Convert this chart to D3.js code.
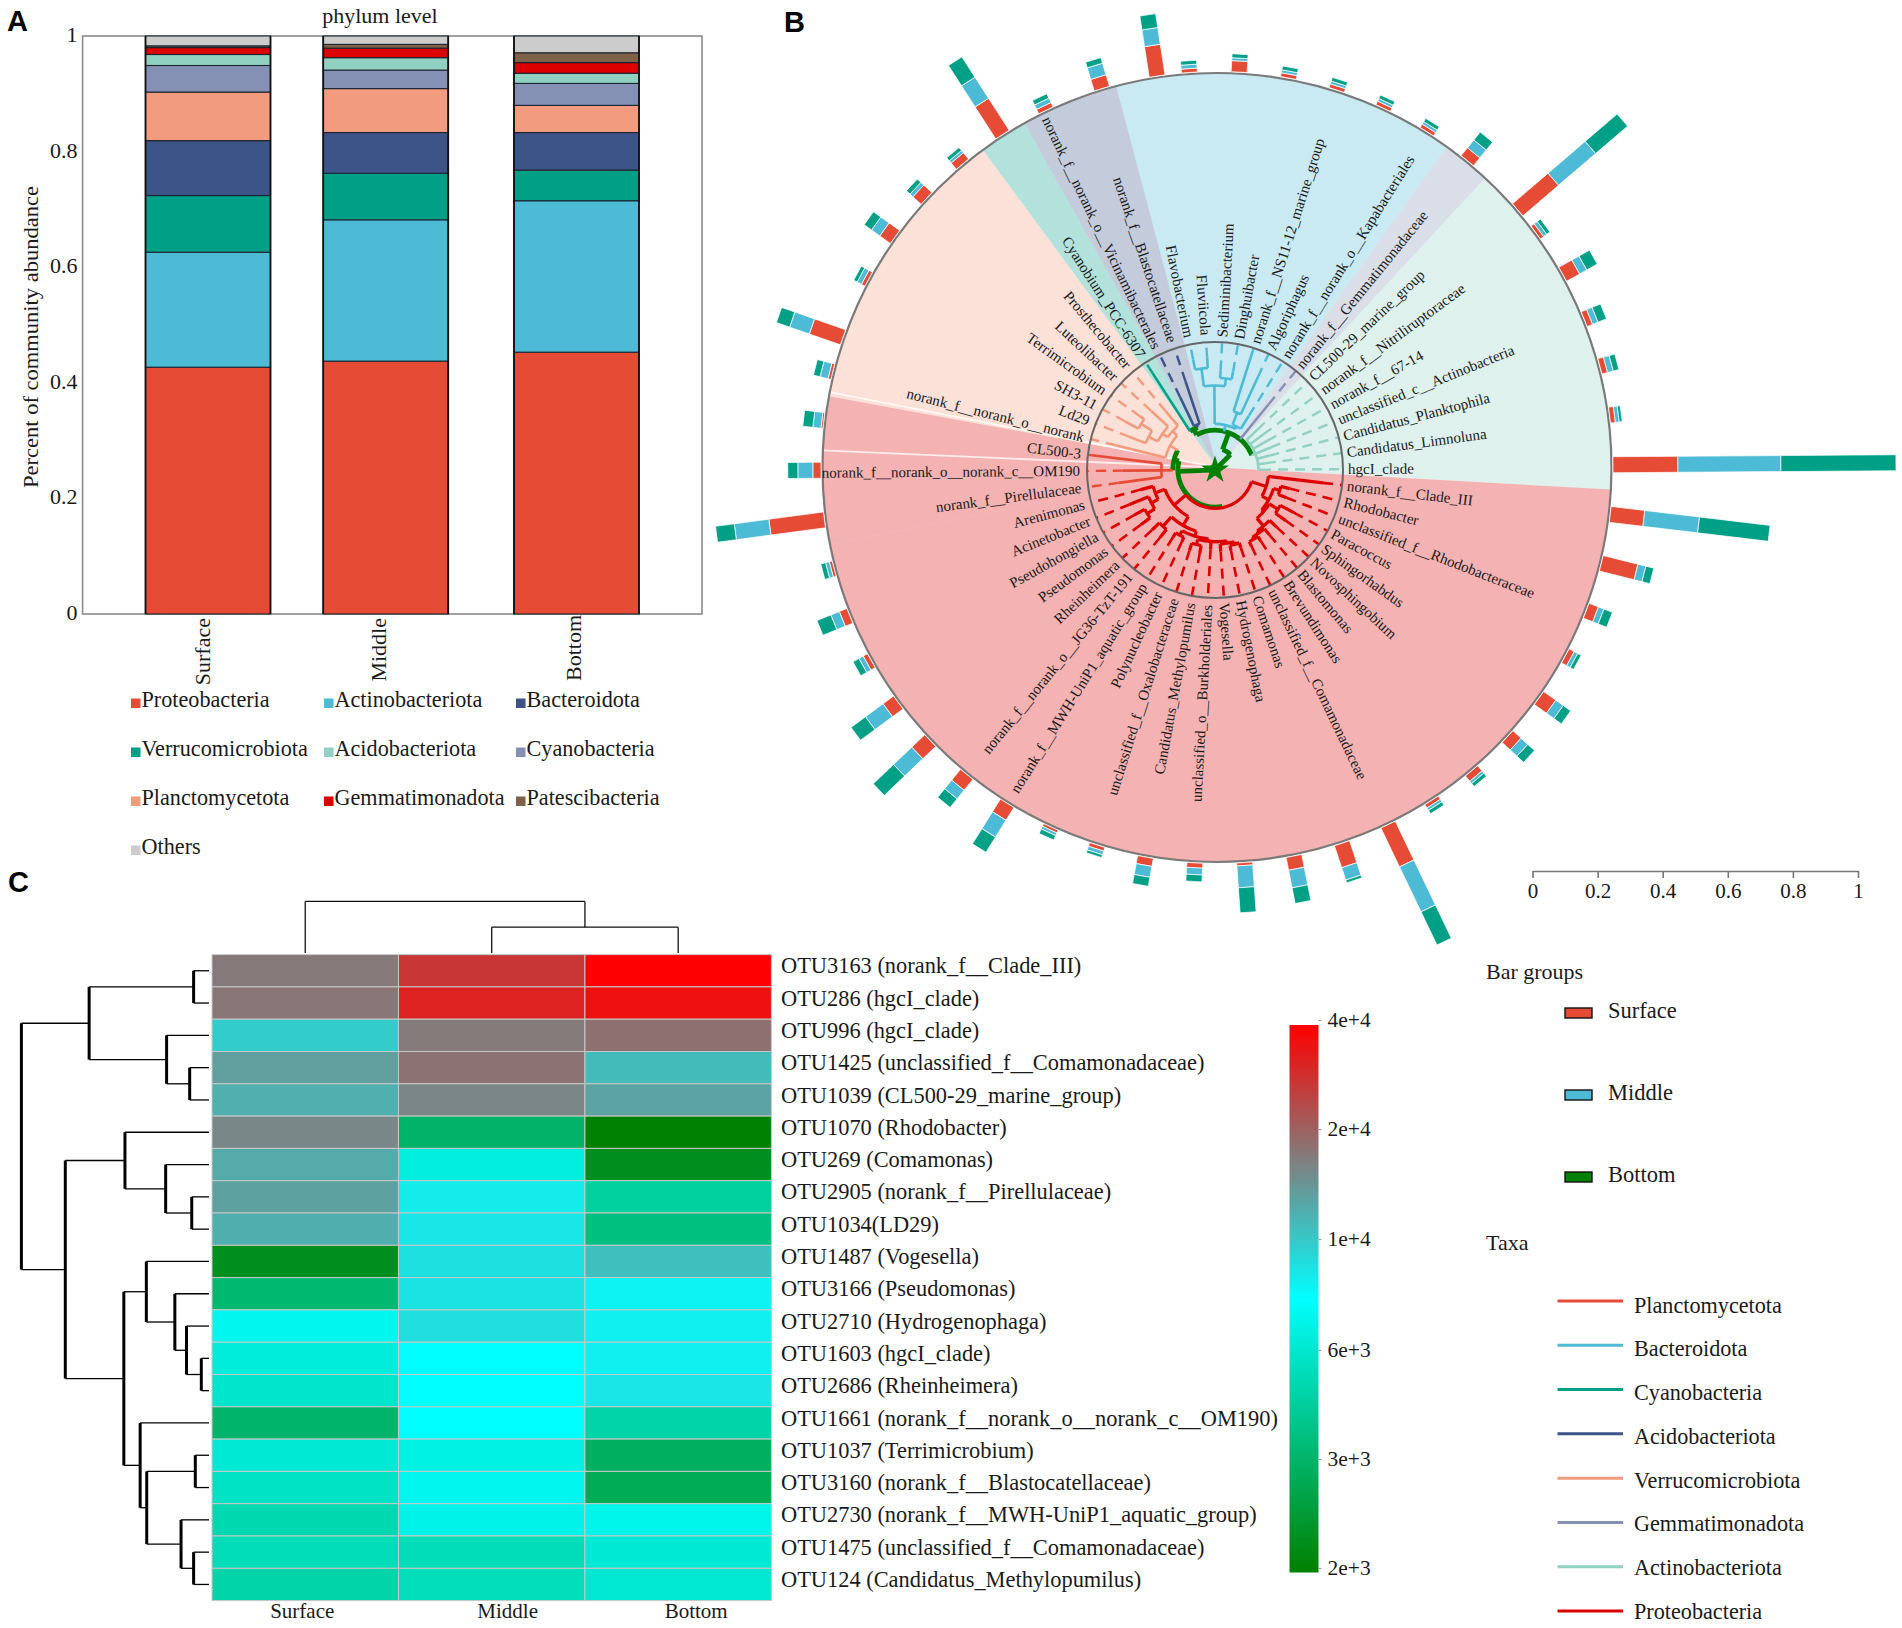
<!DOCTYPE html>
<html><head><meta charset="utf-8">
<script src="https://cdn.jsdelivr.net/npm/d3@7"></script>
<style>
html,body{margin:0;padding:0;background:#fff}
svg{display:block}
text{font-family:"Liberation Serif",serif;fill:#1a1a1a}
.letter{font-family:"Liberation Sans",sans-serif;font-weight:700;font-size:29px;fill:#000}
</style></head><body>
<svg id="chart" width="1902" height="1628"></svg>
<script>
// ---------- Panel A ----------
const sites = ["Surface","Middle","Bottom"];
const phyla = ["Proteobacteria","Actinobacteriota","Verrucomicrobiota","Bacteroidota","Planctomycetota","Cyanobacteria","Acidobacteriota","Gemmatimonadota","Patescibacteria","Others"];
const phylaColors = ["#E64B35","#4DBBD5","#00A087","#3C5488","#F39B7F","#8491B4","#91D1C2","#DC0000","#7E6148","#CCCCCC"];
const surfaceShares = [.427,.199,.098,.095,.084,.046,.019,.012,.003,.017];
const middleShares  = [.4375,.2445,.0805,.0705,.076,.032,.0215,.0165,.0065,.0145];
const bottomShares  = [.453,.262,.053,.065,.047,.038,.0176,.0184,.017,.029];
const shareTicks = [0,.2,.4,.6,.8,1];
const legendPhyla = ["Proteobacteria","Actinobacteriota","Bacteroidota","Verrucomicrobiota","Acidobacteriota","Cyanobacteria","Planctomycetota","Gemmatimonadota","Patescibacteria","Others"];

// ---------- Panel B ----------
const genera = ["hgcI_clade","Candidatus_Limnoluna","Candidatus_Planktophila","unclassified_c__Actinobacteria","norank_f__67-14","norank_f__Nitriliruptoraceae","CL500-29_marine_group","norank_f__Gemmatimonadaceae","norank_f__norank_o__Kapabacteriales","Algoriphagus","norank_f__NS11-12_marine_group","Dinghuibacter","Sediminibacterium","Fluviicola","Flavobacterium","norank_f__Blastocatellaceae","norank_f__norank_o__Vicinamibacterales","Cyanobium_PCC-6307","Prosthecobacter","Luteolibacter","Terrimicrobium","SH3-11","Ld29","norank_f__norank_o__norank","CL500-3","norank_f__norank_o__norank_c__OM190","norank_f__Pirellulaceae","Arenimonas","Acinetobacter","Pseudohongiella","Pseudomonas","Rheinheimera","norank_f__norank_o__JG36-TzT-191","norank_f__MWH-UniP1_aquatic_group","Polynucleobacter","unclassified_f__Oxalobacteraceae","Candidatus_Methylopumilus","unclassified_o__Burkholderiales","Vogesella","Hydrogenophaga","Comamonas","unclassified_f__Comamonadaceae","Brevundimonas","Blastomonas","Novosphingobium","Sphingorhabdus","Paracoccus","unclassified_f__Rhodobacteraceae","Rhodobacter","norank_f__Clade_III"];
const generaPhylum = ["Act","Act","Act","Act","Act","Act","Act","Gem","Bac","Bac","Bac","Bac","Bac","Bac","Bac","Aci","Aci","Cya","Ver","Ver","Ver","Ver","Ver","Ver","Pla","Pla","Pla","Pro","Pro","Pro","Pro","Pro","Pro","Pro","Pro","Pro","Pro","Pro","Pro","Pro","Pro","Pro","Pro","Pro","Pro","Pro","Pro","Pro","Pro","Pro"];
const barSurface = [.199,.015,.018,.018,.046,.012,.144,.031,.012,.012,.012,.012,.034,.012,.095,.037,.015,.117,.025,.034,.040,.012,.101,.009,.006,.025,.169,.009,.025,.015,.040,.055,.043,.046,.009,.012,.025,.015,.009,.040,.071,.132,.012,.021,.034,.046,.018,.031,.110,.104];
const barMiddle  = [.316,.012,.018,.018,.025,.012,.150,.031,.009,.009,.009,.009,.009,.012,.052,.037,.015,.077,.009,.012,.031,.015,.064,.025,.025,.046,.107,.012,.028,.015,.067,.077,.034,.061,.009,.012,.034,.021,.067,.055,.040,.153,.009,.009,.028,.028,.012,.018,.025,.169];
const barBottom  = [.353,.009,.018,.028,.037,.012,.129,.031,.012,.012,.012,.012,.012,.012,.043,.018,.015,.074,.012,.015,.028,.012,.043,.021,.031,.031,.058,.015,.046,.021,.055,.086,.034,.055,.015,.009,.028,.021,.077,.049,.009,.113,.012,.012,.028,.028,.012,.028,.025,.218];
const leafTip = [.36,.4,.44,.47,.47,.47,.46,.66,.5,.8,.98,.78,.78,.88,.88,.73,.63,.9,.6,.68,.72,.8,.72,.8,.97,.72,.76,.6,.72,.72,.72,.68,.68,.62,.62,.66,.66,.62,.64,.64,.64,.66,.66,.66,.66,.68,.7,.6,.6,.85];
// nested clades: [branch radius, ...children]; a plain number is a genus index
const phylumTree = [.03,
  [.17,
    [.31,
      [.34,0,1,2,3,4,5,6],
      7,
      [.36,[.38,8,[.48,9,10]],[.66,[.72,11,12],[.8,13,14]]],
      [.36,[.38,15,16],17]]],
  [.29,
    [.33,
      [.4,[.45,18,[.5,19,[.58,[.68,20,21],22]]],23],
      [.42,24,25,26]],
    [.3,
      [.42,[.5,27,[.56,28,[.63,29,30]]],[.5,[.6,31,32],[.54,[.58,33,34],[.56,[.6,35,36],[.56,37,[.58,38,[.6,39,40]]]]]]],
      [.42,49,[.48,[.53,48,47],[.5,[.58,46,45],[.58,44,[.6,43,[.62,42,41]]]]]]]]];
const rootLinkAngles = [45,-92];
const barAngleShift = {6:3,14:2.5,15:1.5,22:-2};
const taxaCodes = ["Pla","Bac","Cya","Aci","Ver","Gem","Act","Pro"];
const taxaNames = ["Planctomycetota","Bacteroidota","Cyanobacteria","Acidobacteriota","Verrucomicrobiota","Gemmatimonadota","Actinobacteriota","Proteobacteria"];
const taxaColors = ["#E64B35","#4DBBD5","#00A087","#3C5488","#F39B7F","#8491B4","#91D1C2","#DC0000"];
const sectorColors = ["#DC0000","#4DBBD5","#00A087","#3C5488","#F39B7F","#8491B4","#91D1C2","#DC0000"];
const sectorSeams = [-79,-87.5];
const scaleTicks = [0,.2,.4,.6,.8,1];
const barGroupColors = ["#E64B35","#4DBBD5","#00A087"];
const barGroupSwatches = ["#E64B35","#4DBBD5","#008000"];

// ---------- Panel C ----------
const otuLabels = ["OTU3163 (norank_f__Clade_III)","OTU286 (hgcI_clade)","OTU996 (hgcI_clade)","OTU1425 (unclassified_f__Comamonadaceae)","OTU1039 (CL500-29_marine_group)","OTU1070 (Rhodobacter)","OTU269 (Comamonas)","OTU2905 (norank_f__Pirellulaceae)","OTU1034(LD29)","OTU1487 (Vogesella)","OTU3166 (Pseudomonas)","OTU2710 (Hydrogenophaga)","OTU1603 (hgcI_clade)","OTU2686 (Rheinheimera)","OTU1661 (norank_f__norank_o__norank_c__OM190)","OTU1037 (Terrimicrobium)","OTU3160 (norank_f__Blastocatellaceae)","OTU2730 (norank_f__MWH-UniP1_aquatic_group)","OTU1475 (unclassified_f__Comamonadaceae)","OTU124 (Candidatus_Methylopumilus)"];
const otuSurface = [17600,18000,10000,13700,12200,16000,12600,13400,12300,2260,3215,7120,6480,6000,3105,6230,5680,4950,5220,4700];
const otuMiddle  = [27700,31900,17400,18300,16200,3000,6560,8580,8800,9030,8900,9140,7750,7750,7750,6770,7180,6900,5220,5400];
const otuBottom  = [40000,36000,18700,11200,13200,2000,2260,4390,3570,10900,8250,8360,8360,8800,4700,2940,2820,6990,6230,6150];
const colorTicks = [2e3,3e3,6e3,1e4,2e4,4e4];
const colorTickLabels = ["2e+3","3e+3","6e+3","1e+4","2e+4","4e+4"];
const rowTree = [1,
  [.639,[.082,0,1],[.226,2,[.103,3,4]]],
  [.766,
    [.448,5,[.231,6,[.092,7,8]]],
    [.454,
      [.334,9,[.182,10,[.12,11,[.041,12,13]]]],
      [.367,14,[.332,[.073,15,16],[.149,17,[.082,18,19]]]]]]];
const columnTree = [1,0,[.5,1,2]];
const columnLabelShift = [-3,16,18];

const svg = d3.select("#chart");
const num = d => d;

// ===== Panel A drawing =====
(function(){
  const g = svg.append("g");
  const y = d3.scaleLinear().domain([0,1]).range([614,36]);
  const x = d3.scaleOrdinal().domain(sites).range([208,385.7,576.5]);
  const barW = 125;
  const color = d3.scaleOrdinal().domain(phyla).range(phylaColors);
  const rows = sites.map((s,i)=>{
    const vals=[surfaceShares,middleShares,bottomShares][i];
    const o={site:s}; phyla.forEach((p,k)=>o[p]=vals[k]); return o;
  });
  const stack = d3.stack().keys(phyla)(rows);
  g.append("rect").attr("x",82.6).attr("y",y(1)).attr("width",619.4).attr("height",y(0)-y(1)).attr("fill","#fff").attr("stroke","#8a8a8a").attr("stroke-width",1.6);
  g.selectAll("g.s").data(stack).join("g").attr("fill",d=>color(d.key))
    .selectAll("rect").data(d=>d).join("rect")
    .attr("x",d=>x(d.data.site)-barW/2).attr("width",barW)
    .attr("y",d=>y(d[1])).attr("height",d=>y(d[0])-y(d[1]))
    .attr("stroke","#1c2430").attr("stroke-width",1.1);
  sites.forEach(s=>{
    [-barW/2,barW/2].forEach(dx=>g.append("line").attr("x1",x(s)+dx).attr("x2",x(s)+dx).attr("y1",y(1)).attr("y2",y(0)).attr("stroke","#111").attr("stroke-width",1.8));
  });
  const ax = g.append("g").attr("transform","translate(82.6,0)").call(d3.axisLeft(y).tickValues(shareTicks).tickFormat(num).tickSize(0).tickPadding(5));
  ax.select(".domain").remove();
  ax.selectAll("text").style("font-family","Liberation Serif").style("font-size","22px").attr("fill","#1a1a1a").attr("dy","0.25em");
  g.append("text").attr("x",380).attr("y",23).attr("text-anchor","middle").style("font-size","22px").text("phylum level");
  g.append("text").attr("transform","translate(38,337) rotate(-90)").attr("text-anchor","middle").style("font-size","22px").attr("textLength",302).attr("lengthAdjust","spacingAndGlyphs").text("Percent of community abundance");
  sites.forEach((s,i)=>g.append("text").attr("transform",`translate(${x(s)+[-5.5,-7,-3][i]},${[618,618,615][i]}) rotate(-90)`).attr("text-anchor","end").attr("dy","0.35em").style("font-size","22px").text(s));
  // legend
  const lx = d3.scaleOrdinal().domain([0,1,2]).range([131,324,516]);
  const ly = d3.scalePoint().domain([0,1,2,3]).range([699.5,846.5]);
  const lg = g.selectAll("g.leg").data(legendPhyla).join("g").attr("transform",(d,i)=>`translate(${lx(i%3)},${ly(Math.floor(i/3))})`);
  lg.append("rect").attr("y",-1).attr("width",9.5).attr("height",9.5).attr("fill",d=>color(d));
  lg.append("text").attr("x",10.5).attr("y",0).attr("dy","0.32em").style("font-size","22.2px").text(d=>d);
  svg.append("text").attr("class","letter").attr("x",7).attr("y",31).text("A");
})();

// ===== Panel B drawing =====
(function(){
  const c0=[1217,467.5], c1=[1215,470];
  const R=394.5, r0=128;
  const angle = d3.scaleLinear().domain([0,49]).range([89.6,89.6-7.2*49]);
  const rad = d=>d*Math.PI/180;
  const tax = d3.scaleOrdinal().domain(taxaCodes).range(taxaColors);
  const sec = d3.scaleOrdinal().domain(taxaCodes).range(sectorColors);
  const barLen = d3.scaleLinear().domain([0,1]).range([0,326]);

  // background sectors
  const sg = svg.append("g").attr("transform",`translate(${c0})`);
  const runs=[];
  generaPhylum.forEach((p,i)=>{ const l=runs[runs.length-1]; if(l&&l.p===p) l.last=i; else runs.push({p,first:i,last:i}); });
  const arc=d3.arc();
  sg.selectAll("path.sector").data(runs).join("path")
    .attr("d",d=>arc({innerRadius:0,outerRadius:R,startAngle:rad(angle(d.last)-3.6),endAngle:rad(angle(d.first)+3.6)}))
    .attr("fill",d=>sec(d.p)).attr("fill-opacity",.3);
  sg.selectAll("line.seam").data(sectorSeams).join("line")
    .attr("x1",0).attr("y1",0)
    .attr("x2",d=>R*Math.sin(rad(d))).attr("y2",d=>-R*Math.cos(rad(d)))
    .attr("stroke","#fff").attr("stroke-opacity",.75).attr("stroke-width",1.8);
  sg.append("circle").attr("r",R).attr("fill","none").attr("stroke","#7a7a7a").attr("stroke-width",2.2);

  // outer stacked bars
  const barRows = genera.map((g,i)=>({i,segs:[barSurface[i],barMiddle[i],barBottom[i]]}));
  const bg = sg.selectAll("g.bar").data(barRows).join("g").attr("transform",d=>`rotate(${angle(d.i)+(barAngleShift[d.i]||0)})`);
  bg.selectAll("rect").data(d=>{let s=0;return d.segs.map((v,k)=>{const o={v,k,s};s+=v;return o;});}).join("rect")
    .attr("x",-8).attr("width",16)
    .attr("y",d=>-(R+1.5+barLen(d.s+d.v))).attr("height",d=>barLen(d.v))
    .attr("fill",d=>barGroupColors[d.k]).attr("stroke","#fff").attr("stroke-width",.7);

  // tree
  const tg = svg.append("g").attr("transform",`translate(${c1})`);
  const root = d3.hierarchy(phylumTree,d=>Array.isArray(d)?d.slice(1):null);
  root.eachAfter(n=>{
    if(!n.children){ n.theta=angle(n.data); n.rr=leafTip[n.data]*r0; n.codes=new Set([generaPhylum[n.data]]); }
    else{
      const a=n.children.map(c=>c.theta);
      n.lo=d3.min(a); n.hi=d3.max(a); n.theta=(n.lo+n.hi)/2; n.rr=n.data[0]*r0;
      n.codes=new Set(n.children.flatMap(c=>[...c.codes]));
    }
    n.col = n.codes.size===1 ? tax([...n.codes][0]) : "#008000";
    n.w = n.codes.size===1 ? (n.codes.has("Pro")?3.2:2.6) : 4.8;
    n.link = n.theta;
  });
  root.children.forEach((n,i)=>{
    n.link=rootLinkAngles[i];
    n.lo=Math.min(n.lo,n.link); n.hi=Math.max(n.hi,n.link);
  });
  const radial=d3.lineRadial().angle(d=>rad(d[0])).radius(d=>d[1]);
  root.descendants().forEach(n=>{
    if(n.parent){
      tg.append("path").attr("d",radial([[n.link,n.parent.rr],[n.link,n.rr]])).attr("fill","none").attr("stroke",n.col).attr("stroke-width",n.w);
    }
    if(n.children){
      if(n.hi>n.lo) tg.append("path").attr("d",arc({innerRadius:n.rr,outerRadius:n.rr,startAngle:rad(n.lo),endAngle:rad(n.hi)})).attr("fill","none").attr("stroke",n.col).attr("stroke-width",n.w);
    } else {
      tg.append("path").attr("d",radial([[n.theta,n.rr],[n.theta,r0]])).attr("fill","none").attr("stroke",n.col).attr("stroke-width",n.codes.has("Pro")?2.6:2.4).attr("stroke-dasharray","10,7");
    }
  });
  tg.append("path").attr("d",d3.symbol(d3.symbolStar,240)()).attr("fill","#008000");
  tg.append("circle").attr("r",r0).attr("fill","none").attr("stroke","#666").attr("stroke-width",2);

  // genus labels
  tg.selectAll("text.gen").data(genera).join("text")
    .attr("transform",(d,i)=>{const a=angle(i);const n=((a%360)+360)%360;const right=n<180;return `rotate(${a}) translate(0,${-(right?133:135)}) rotate(${right?-90:90})`;})
    .attr("text-anchor",(d,i)=>{const n=((angle(i)%360)+360)%360;return n<180?"start":"end";})
    .attr("dy","0.33em").style("font-size","15px").text(d=>d);

  // scale bar
  const sx=d3.scaleLinear().domain([0,1]).range([1532.5,1858]);
  const ax=svg.append("g").attr("transform","translate(0,871)").call(d3.axisBottom(sx).tickValues(scaleTicks).tickFormat(num).tickSize(7).tickSizeOuter(0).tickPadding(5));
  ax.selectAll("path,line").attr("stroke","#777").attr("stroke-width",1.6);
  ax.selectAll("text").style("font-family","Liberation Serif").style("font-size","21px").attr("fill","#1a1a1a");
  svg.append("text").attr("class","letter").attr("x",784).attr("y",32).text("B");
})();

// ===== Panel C drawing =====
(function(){
  const g=svg.append("g");
  const x=d3.scaleBand().domain(sites).range([212,771.4]);
  const y=d3.scaleBand().domain(otuLabels).range([954.6,1600.6]);
  const t=d3.scaleLog().domain(colorTicks).range([0,.2,.4,.6,.8,1]);
  const ramp=d3.scaleLinear().domain([0,.5,1]).range(["#008000","#00ffff","#ff0000"]);
  const matrix=[otuSurface,otuMiddle,otuBottom];
  const cells=matrix.flatMap((vals,c)=>vals.map((v,r)=>({c,r,v})));
  g.selectAll("rect.cell").data(cells).join("rect")
    .attr("x",d=>x(sites[d.c])).attr("y",d=>y(otuLabels[d.r])).attr("width",x.bandwidth()).attr("height",y.bandwidth())
    .attr("fill",d=>ramp(t(d.v))).attr("stroke","#c8c8c8").attr("stroke-width",1);
  g.selectAll("text.row").data(otuLabels).join("text")
    .attr("x",781).attr("y",d=>y(d)+y.bandwidth()/2-5).attr("dy","0.34em").style("font-size","22.4px").text(d=>d);
  g.selectAll("text.col").data(sites).join("text")
    .attr("x",(d,i)=>x(d)+x.bandwidth()/2+columnLabelShift[i]).attr("y",1618).attr("text-anchor","middle").style("font-size","21px").text(d=>d);

  // row dendrogram
  const dx=d3.scaleLinear().domain([0,1]).range([209,21.4]);
  function walk(node,leafPos,hLine,vLine){
    if(!Array.isArray(node)) return {h:0,p:leafPos(node)};
    const kids=node.slice(1).map(k=>walk(k,leafPos,hLine,vLine));
    const p=(d3.min(kids,k=>k.p)+d3.max(kids,k=>k.p))/2;
    kids.forEach(k=>hLine(k.h,node[0],k.p));
    vLine(node[0],d3.min(kids,k=>k.p),d3.max(kids,k=>k.p));
    return {h:node[0],p};
  }
  const tr=g.append("g").attr("stroke","#000").attr("fill","none");
  walk(rowTree,i=>y(otuLabels[i])+y.bandwidth()/2,
    (h0,h1,p)=>tr.append("line").attr("x1",dx(h0)).attr("x2",dx(h1)).attr("y1",p).attr("y2",p).attr("stroke-width",1.3),
    (h,a,b)=>tr.append("line").attr("x1",dx(h)).attr("x2",dx(h)).attr("y1",a).attr("y2",b).attr("stroke-width",3));
  // column dendrogram
  const dy=d3.scaleLinear().domain([0,1]).range([953,901.4]);
  const tc=g.append("g").attr("stroke","#111").attr("fill","none").attr("stroke-width",1.3);
  walk(columnTree,i=>x(sites[i])+x.bandwidth()/2,
    (h0,h1,p)=>tc.append("line").attr("x1",p).attr("x2",p).attr("y1",dy(h0)).attr("y2",dy(h1)),
    (h,a,b)=>tc.append("line").attr("x1",a).attr("x2",b).attr("y1",dy(h)).attr("y2",dy(h)));

  // colour bar
  const defs=svg.append("defs");
  const grad=defs.append("linearGradient").attr("id","cb").attr("x1",0).attr("x2",0).attr("y1",1).attr("y2",0);
  [0,.5,1].forEach(s=>grad.append("stop").attr("offset",s).attr("stop-color",ramp(s)));
  g.append("rect").attr("x",1289.5).attr("y",1025).attr("width",29).attr("height",547.5).attr("fill","url(#cb)");
  const cy=d3.scaleLog().domain(colorTicks).range([1568,1459,1350,1239,1129,1020]);
  const ax=g.append("g").attr("transform","translate(1318.5,0)").call(d3.axisRight(cy).tickValues(colorTicks).tickFormat((d,i)=>colorTickLabels[i]).tickSize(3).tickPadding(6));
  ax.select(".domain").remove();
  ax.selectAll("line").attr("stroke","#999");
  ax.selectAll("text").style("font-family","Liberation Serif").style("font-size","21.5px").attr("fill","#1a1a1a");
  svg.append("text").attr("class","letter").attr("x",8).attr("y",892).text("C");

  // right-hand legends
  g.append("text").attr("x",1486).attr("y",979).style("font-size","22px").text("Bar groups");
  const by=d3.scalePoint().domain(sites).range([1013,1177]);
  const bl=g.selectAll("g.bl").data(sites).join("g").attr("transform",d=>`translate(0,${by(d)})`);
  bl.append("rect").attr("x",1565).attr("y",-5).attr("width",27).attr("height",10).attr("fill",(d,i)=>barGroupSwatches[i]).attr("stroke","#111").attr("stroke-width",1.4);
  bl.append("text").attr("x",1608).attr("y",-3).attr("dy","0.34em").style("font-size","22.5px").text(d=>d);
  g.append("text").attr("x",1486).attr("y",1250).style("font-size","22px").text("Taxa");
  const ty=d3.scalePoint().domain(taxaNames).range([1301,1611]);
  const tl=g.selectAll("g.tl").data(taxaNames).join("g").attr("transform",d=>`translate(0,${ty(d)})`);
  tl.append("line").attr("x1",1557.5).attr("x2",1623).attr("stroke",(d,i)=>taxaColors[i]).attr("stroke-width",3);
  tl.append("text").attr("x",1634).attr("y",(d,i)=>4-i*.55).attr("dy","0.34em").style("font-size","22.2px").text(d=>d);
})();
</script>
</body></html>
